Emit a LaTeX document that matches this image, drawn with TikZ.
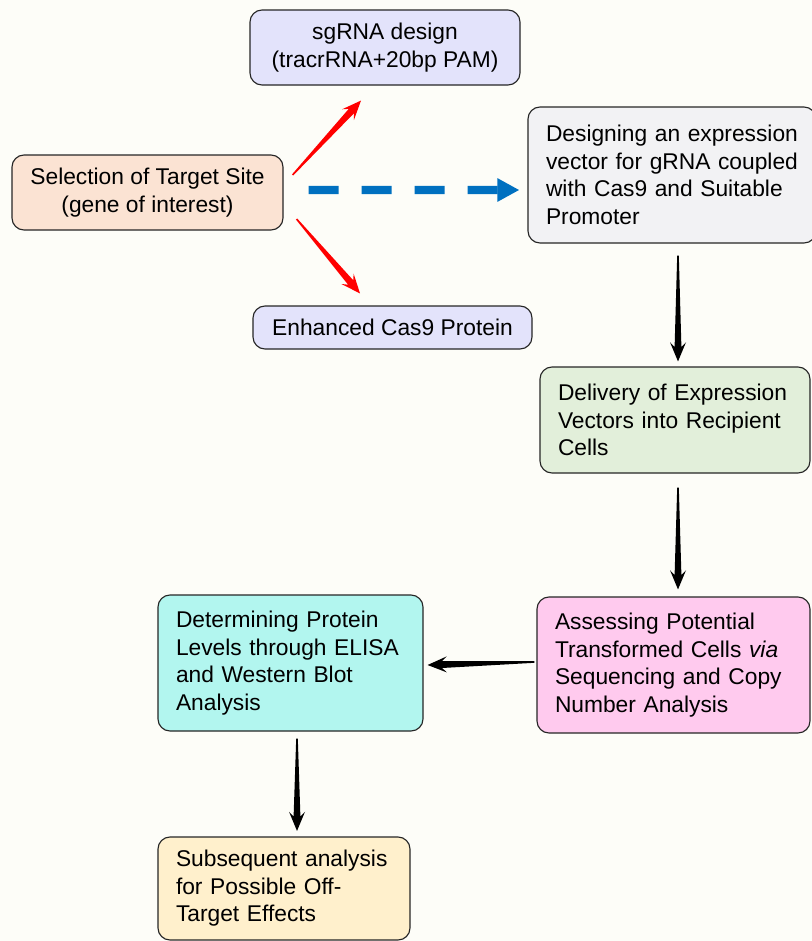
\documentclass[tikz,border=0pt]{standalone}
\usepackage{fontspec}
\setmainfont{Liberation Sans}
\usetikzlibrary{arrows.meta, calc}
\definecolor{bgcream}{HTML}{FDFDF8}
\definecolor{lavender}{HTML}{E3E3FB}
\definecolor{peach}{HTML}{FBE3D3}
\definecolor{paleGrey}{HTML}{F2F2F4}
\definecolor{paleGreen}{HTML}{E2EFDA}
\definecolor{pink}{HTML}{FFCAEE}
\definecolor{aqua}{HTML}{B2F6EF}
\definecolor{cream}{HTML}{FFF0CC}
\definecolor{flowblue}{HTML}{0070C0}
\tikzstyle{box} = [rectangle, rounded corners=0.3cm, draw=black!85, line width=0.8pt,
                   font=\fontsize{16.2}{19.6}\selectfont, inner ysep=2pt]
\tikzstyle{cbox} = [box, align=center, inner xsep=0.2cm]
\tikzstyle{lbox} = [box, align=left, inner xsep=0.45cm]
\tikzstyle{bluearrow} = [-{Triangle[length=5.5mm, width=5.5mm]}, line width=5.7pt, flowblue,
                         dash pattern=on 0.75cm off 0.575cm]
% tapered arrow: thin tail, wide neck, notched head
\newcommand{\taperarrow}[3][black]{%
    \coordinate (ta) at #2;
    \coordinate (tb) at #3;
    \coordinate (tn) at ($(tb)!0.36cm!(ta)$);
    \coordinate (tm) at ($(tb)!0.48cm!(ta)$);
    \fill[#1] ($(ta)!0.02cm!90:(tb)$) -- ($(tn)!0.085cm!90:(tb)$) -- ($(tm)!0.2cm!90:(tb)$)
        -- (tb) -- ($(tm)!0.2cm!-90:(tb)$) -- ($(tn)!0.085cm!-90:(tb)$)
        -- ($(ta)!0.02cm!-90:(tb)$) -- cycle;
}

\begin{document}
\begin{tikzpicture}
    \fill[bgcream] (0,0) rectangle (20.3,-23.525);
    \useasboundingbox (0,0) rectangle (20.3,-23.525);

    % left column and targets
    \node[cbox, fill=lavender, minimum width=6.75cm, minimum height=1.875cm] (sg) at (9.625,-1.1875)
        {sgRNA design\\(tracrRNA+20bp PAM)};
    \node[cbox, fill=peach, minimum width=6.775cm, minimum height=1.875cm] (sel) at (3.6875,-4.8125)
        {Selection of Target Site\\(gene of interest)};
    \node[cbox, fill=lavender, minimum width=6.975cm, minimum height=1.075cm] (enh) at (9.8125,-8.1875)
        {Enhanced Cas9 Protein};

    % main flow
    \node[lbox, fill=paleGrey, text width=6.3cm, minimum height=3.4cm] (design) at (16.8,-4.375)
        {Designing an expression\\vector for gRNA coupled\\with Cas9 and Suitable\\Promoter};
    \node[lbox, fill=paleGreen, text width=5.85cm, minimum height=2.65cm] (deliver) at (16.875,-10.5)
        {Delivery of Expression\\Vectors into Recipient\\Cells};
    \node[lbox, fill=pink, text width=5.925cm, minimum height=3.4cm] (assess) at (16.8375,-16.625)
        {Assessing Potential\\Transformed Cells \textit{via}\\Sequencing and Copy\\Number Analysis};
    \node[lbox, fill=aqua, text width=5.725cm, minimum height=3.4cm] (determ) at (7.2625,-16.575)
        {Determining Protein\\Levels through ELISA\\and Western Blot\\Analysis};
    \node[lbox, fill=cream, text width=5.4cm, minimum height=2.575cm] (subseq) at (7.1,-22.2125)
        {Subsequent analysis\\for Possible Off-\\Target Effects};

    % connectors
    \taperarrow[red]{([shift={(0.225,0.4375)}]sel.east)}{([shift={(-0.6,-0.375)}]sg.south)}
    \taperarrow[red]{([shift={(0.325,-0.6625)}]sel.east)}{([shift={(-0.8125,0.3)}]enh.north)}
    \draw[bluearrow] ([shift={(0.625,0.0625)}]sel.east) -- ([shift={(-0.2,-0.375)}]design.west);
    \taperarrow{([shift={(0.15,-0.3)}]design.south)}{([shift={(0.075,0.125)}]deliver.north)}
    \taperarrow{([shift={(0.075,-0.35)}]deliver.south)}{([shift={(0.1125,0.175)}]assess.north)}
    \taperarrow{([shift={(-0.05,0.075)}]assess.west)}{([shift={(0.1,-0.05)}]determ.east)}
    \taperarrow{([shift={(0.1625,-0.175)}]determ.south)}{([shift={(0.325,0.1375)}]subseq.north)}
\end{tikzpicture}
\end{document}
